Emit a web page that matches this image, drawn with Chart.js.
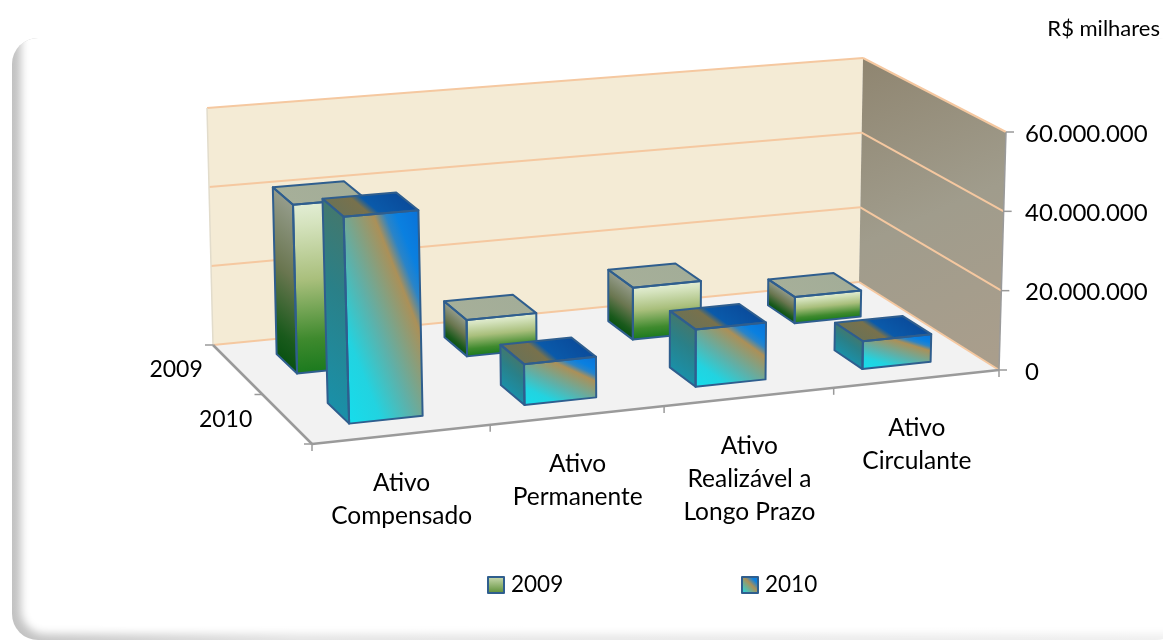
<!DOCTYPE html>
<html lang="pt-BR">
<head>
<meta charset="utf-8">
<title>Ativo 2009 / 2010</title>
<script src="https://cdn.jsdelivr.net/npm/chart.js@4"></script>
<style>html,body{margin:0;padding:0;background:#fff}canvas{display:block}</style>
</head>
<body>
<canvas id="c" width="1163" height="642"></canvas>
<script>
const categories = [["Ativo","Compensado"],["Ativo","Permanente"],["Ativo","Realizável a","Longo Prazo"],["Ativo","Circulante"]];
const seriesNames = ["2009","2010"];
const values2009 = [42000000, 9200000, 13300000, 6800000];
const values2010 = [49900000, 10000000, 14200000, 7000000];
const yMax = 60000000;
const yStep = 20000000;
const unitNote = "R$ milhares";

const FONT = "Lato";
// Projection cage: picture position of the eight corners of the 3D box (u: left-right, v: back-front, w: height)
const cage = {
  blb:[213,345], brb:[859,282], flb:[312,444], frb:[999,370],
  blt:[207,108], brt:[863,58],  flt:[304,192], frt:[1006,132]
};
const mix = (a,b,t)=>[a[0]+(b[0]-a[0])*t, a[1]+(b[1]-a[1])*t];
function project(u,v,w){
  const p = u + 0.05*u*(1-u);
  const bot = mix(mix(cage.blb,cage.brb,p), mix(cage.flb,cage.frb,p), v);
  const top = mix(mix(cage.blt,cage.brt,p), mix(cage.flt,cage.frt,p), v);
  return mix(bot,top,w);
}
const depthBands = [[0.14,0.34],[0.64,0.85]];

function poly(ctx,pts){
  ctx.beginPath();
  pts.forEach((p,i)=> i?ctx.lineTo(p[0],p[1]):ctx.moveTo(p[0],p[1]));
  ctx.closePath();
}
function line(ctx,a,b,color,width){
  ctx.beginPath();ctx.moveTo(a[0],a[1]);ctx.lineTo(b[0],b[1]);
  ctx.strokeStyle=color;ctx.lineWidth=width;ctx.stroke();
}
// Fill a parallelogram-like face with a gradient expressed in the face's own unit square
function fillFace(ctx,pts,g){
  ctx.save();
  poly(ctx,pts);ctx.clip();
  const [a,b,,d]=pts;
  ctx.transform(b[0]-a[0],b[1]-a[1],d[0]-a[0],d[1]-a[1],a[0],a[1]);
  const gr=ctx.createLinearGradient(g.from[0],g.from[1],g.to[0],g.to[1]);
  g.stops.forEach(s=>gr.addColorStop(s[0],s[1]));
  ctx.fillStyle=gr;
  ctx.fillRect(-1,-1,3,3);
  ctx.restore();
}
const faceStyles = [
 { front:{from:[0,0],to:[0,1],stops:[[0,"#E2EDD4"],[0.12,"#D5E3BE"],[0.45,"#A9BF7C"],[0.8,"#3F8A2E"],[1,"#1B7A1E"]]},
   side:{from:[0,0],to:[0,1],stops:[[0,"#959C8B"],[0.45,"#6A7650"],[0.85,"#1A5A1C"],[1,"#0A5212"]]},
   top:{from:[0,0],to:[1,0],stops:[[0,"#A6AF99"],[1,"#A3AD98"]]} },
 { front:{from:[0.02,0.98],to:[1,0],stops:[[0,"#17DCEB"],[0.2,"#22D3E0"],[0.42,"#5FB0A8"],[0.69,"#AB9058"],[0.77,"#2A84C8"],[0.84,"#0A80E0"],[1,"#0A72D8"]]},
   side:{from:[0,0],to:[0,1],stops:[[0,"#42786E"],[0.4,"#2A8088"],[1,"#1A90A8"]]},
   top:{from:[0,0.5],to:[1,0.5],stops:[[0,"#6C7255"],[0.36,"#78714C"],[0.5,"#0A5AAA"],[1,"#0A4C9C"]]} }
];
const barStroke = "#2F5E8E";

const panelPlugin = {
  id:"panel",
  beforeDraw(chart){
    const ctx=chart.ctx;
    ctx.save();
    ctx.fillStyle="#fff";ctx.fillRect(0,0,chart.width,chart.height);
    ctx.beginPath();ctx.roundRect(12,38,1170,602,26);ctx.clip();
    const g=ctx.createLinearGradient(12,0,1163,0);
    g.addColorStop(0,"#C2C2C2");g.addColorStop(0.25,"#E4E4E4");g.addColorStop(1,"#EFEFEF");
    ctx.fillStyle=g;ctx.fillRect(0,0,1163,642);
    ctx.filter="blur(4px)";
    ctx.fillStyle="#fff";
    ctx.beginPath();ctx.roundRect(21,10,1200,624,24);ctx.fill();
    ctx.restore();
    ctx.save();
    ctx.fillStyle="#000";ctx.font="22px "+FONT;ctx.textAlign="right";ctx.textBaseline="middle";
    ctx.fillText(unitNote,1160,29);
    ctx.restore();
  },
  beforeDatasetsDraw(chart){
    const ctx=chart.ctx, y=chart.scales.y;
    const frac=val=>(y.getPixelForValue(0)-y.getPixelForValue(val))/(y.getPixelForValue(0)-y.getPixelForValue(yMax));
    ctx.save();
    ctx.lineJoin="round";
    // floor
    poly(ctx,[cage.blb,cage.brb,cage.frb,cage.flb]);ctx.fillStyle="#F2F2F2";ctx.fill();
    // back wall
    poly(ctx,[cage.blt,cage.brt,cage.brb,cage.blb]);ctx.fillStyle="#F4EBD5";ctx.fill();
    // side wall
    poly(ctx,[cage.brt,cage.frt,cage.frb,cage.brb]);
    const rg=ctx.createLinearGradient(863,58,999,370);
    rg.addColorStop(0,"#8F8570");rg.addColorStop(0.5,"#A09C8C");rg.addColorStop(1,"#AA9E8C");
    ctx.fillStyle=rg;ctx.fill();
    // wall grid lines on the y ticks
    const peach="#F5C8A0";
    y.ticks.forEach(t=>{
      const w=frac(t.value);
      line(ctx,project(0,0,w),project(1,0,w),peach,2);
      line(ctx,project(1,0,w),project(1,1,w),peach,2);
    });
    line(ctx,cage.blt,cage.blb,"#E2DCCB",1.5);
    // axes
    const gray="#9A9A9A";
    line(ctx,cage.blb,cage.flb,gray,2.5);
    line(ctx,cage.flb,cage.frb,gray,2.5);
    line(ctx,cage.frb,cage.frt,gray,1.5);
    y.ticks.forEach(t=>{
      const p=project(1,1,frac(t.value));
      line(ctx,p,[p[0]+8,p[1]],gray,1.5);
    });
    for(let i=0;i<=categories.length;i++){
      const p=project(i/categories.length,1,0);
      line(ctx,p,[p[0],p[1]+7],gray,1.5);
    }
    for(let i=0;i<=seriesNames.length;i++){
      const p=project(0,i/seriesNames.length,0);
      line(ctx,p,[p[0]-8,p[1]],gray,1.5);
    }
    // category labels along the front edge
    ctx.fillStyle="#000";ctx.font="24.5px "+FONT;ctx.textAlign="center";ctx.textBaseline="middle";
    const xs=chart.scales.x;
    categories.forEach((lab,i)=>{
      const u=(xs.getPixelForValue(i)-chart.chartArea.left)/chart.chartArea.width;
      const p=project(u,1,0);
      lab.forEach((s,k)=>ctx.fillText(s,p[0],p[1]+49+k*33));
    });
    // depth labels
    ctx.font="23px "+FONT;ctx.textAlign="right";
    seriesNames.forEach((s,i)=>{
      const p=project(0,(i+0.5)/seriesNames.length,0);
      ctx.fillText(s,p[0]-35,p[1]);
    });
    // legend
    ctx.textAlign="left";ctx.font="22.5px "+FONT;
    const lx=[488,742];
    chart.data.datasets.forEach((ds,i)=>{
      const x=lx[i],yy=577,s=16;
      const g=ctx.createLinearGradient(x,i?yy+s:yy,i?x+s:x,i?yy:yy+s);
      if(i){g.addColorStop(0,"#17DCEB");g.addColorStop(0.55,"#AB9058");g.addColorStop(0.8,"#0A80E0");}
      else{g.addColorStop(0,"#C8D8AE");g.addColorStop(1,"#5E9038");}
      ctx.fillStyle=g;ctx.fillRect(x,yy,s,s);
      ctx.strokeStyle=barStroke;ctx.lineWidth=2;ctx.strokeRect(x,yy,s,s);
      ctx.fillStyle="#000";
      ctx.fillText(ds.label,x+23,585);
    });
    ctx.restore();
  },
  beforeDatasetDraw(chart,args){
    const ctx=chart.ctx, area=chart.chartArea, meta=args.meta, idx=args.index;
    const [v0,v1]=depthBands[idx], st=faceStyles[idx];
    ctx.save();
    ctx.lineJoin="round";
    meta.data.forEach(el=>{
      const u0=(el.x-el.width/2-area.left)/area.width, u1=(el.x+el.width/2-area.left)/area.width;
      const w=(el.base-el.y)/area.height;
      const ftl=project(u0,v1,w), ftr=project(u1,v1,w), fbr=project(u1,v1,0), fbl=project(u0,v1,0);
      const btl=project(u0,v0,w), btr=project(u1,v0,w), bbl=project(u0,v0,0);
      fillFace(ctx,[btl,ftl,fbl,bbl],st.side);
      fillFace(ctx,[btl,btr,ftr,ftl],st.top);
      fillFace(ctx,[ftl,ftr,fbr,fbl],st.front);
      ctx.strokeStyle=barStroke;ctx.lineWidth=2;
      poly(ctx,[btl,ftl,fbl,bbl]);ctx.stroke();
      poly(ctx,[btl,btr,ftr,ftl]);ctx.stroke();
      poly(ctx,[ftl,ftr,fbr,fbl]);ctx.stroke();
    });
    ctx.restore();
    return false;
  }
};

new Chart(document.getElementById("c"),{
  type:"bar",
  data:{
    labels:categories.map(c=>c.join(" ")),
    datasets:[
      {label:seriesNames[0],data:values2009,backgroundColor:"#8FB060",borderColor:barStroke,order:1,grouped:false,categoryPercentage:1,barPercentage:0.416},
      {label:seriesNames[1],data:values2010,backgroundColor:"#1E9FD0",borderColor:barStroke,order:0,grouped:false,categoryPercentage:1,barPercentage:0.416}
    ]
  },
  options:{
    responsive:false,
    animation:false,
    devicePixelRatio:1,
    layout:{padding:{left:312,right:0,top:134,bottom:270}},
    plugins:{legend:{display:false},title:{display:false},tooltip:{enabled:false}},
    scales:{
      x:{display:false,grid:{display:false}},
      y:{
        position:"right",min:0,max:yMax,
        grid:{display:false},border:{display:false},
        afterFit(s){s.width=164;},
        ticks:{stepSize:yStep,color:"#000",padding:18,font:{family:FONT,size:24},
          callback:v=>String(v).replace(/\B(?=(\d{3})+$)/g,".")}
      }
    }
  },
  plugins:[panelPlugin]
});
</script>
</body>
</html>
